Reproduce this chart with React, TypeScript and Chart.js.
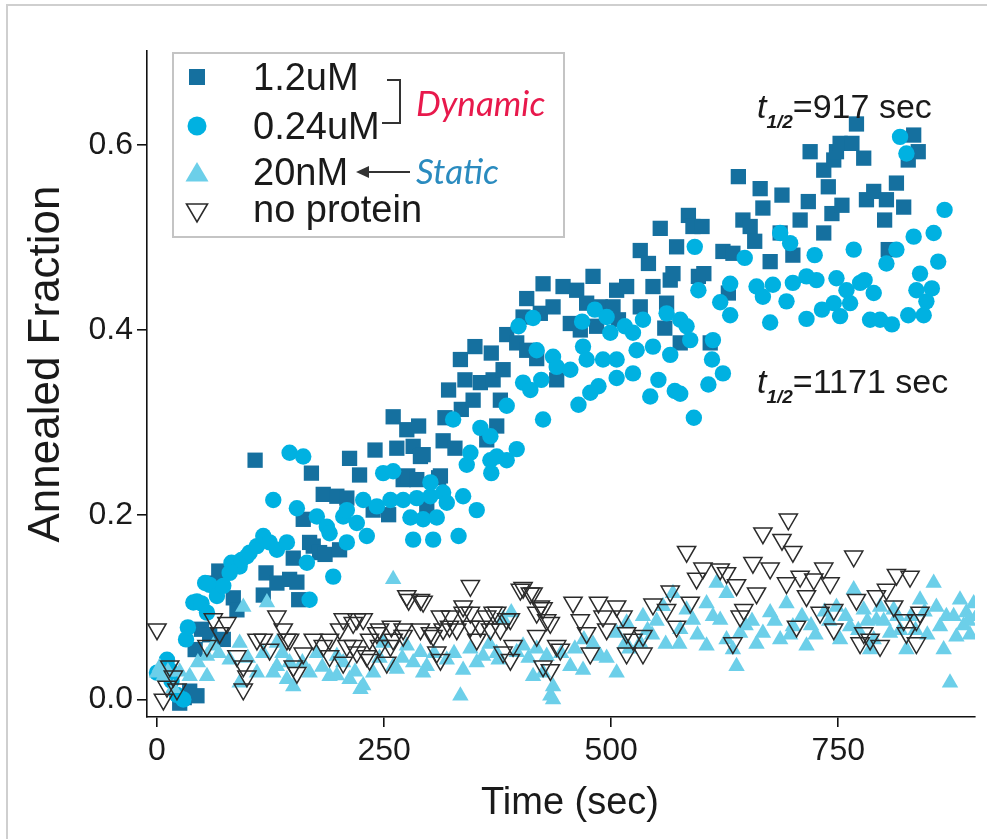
import React, { useEffect, useRef } from "react";
import { Chart, registerables } from "chart.js";
Chart.register(...registerables);

const xTickValues = [0, 250, 500, 750];
const yTickValues = [0, 0.2, 0.4, 0.6];
const xMin = -11;
const xMax = 900.5;
const yMin = -0.019;
const yMax = 0.702;

const seriesNames = ["1.2uM", "0.24uM", "20nM", "no protein"];
const seriesColors = ["#15709f", "#00b1e1", "#6ccfe9", "#2b2b2b"];

const conc12uM: [number, number][] = [
  [25, -0.004], [30, 0.002], [36, 0.009], [44, 0.004], [42, 0.054], [49, 0.076], [58, 0.07], [62, 0.126],
  [68, 0.139], [73, 0.065], [84, 0.11], [88, 0.097], [108, 0.259], [117, 0.113], [120, 0.137], [132, 0.126],
  [146, 0.13], [150, 0.153], [154, 0.127], [156, 0.108], [161, 0.195], [168, 0.17], [170, 0.245], [172, 0.166],
  [179, 0.159], [183, 0.222], [185, 0.157], [198, 0.22], [201, 0.162], [209, 0.218], [212, 0.261], [223, 0.243],
  [238, 0.205], [240, 0.27], [255, 0.2], [260, 0.306], [264, 0.272], [271, 0.238], [275, 0.292], [276, 0.242],
  [282, 0.274], [286, 0.238], [288, 0.296], [290, 0.263], [293, 0.265], [297, 0.207], [310, 0.24], [312, 0.242],
  [315, 0.28], [317, 0.305], [321, 0.335], [328, 0.272], [334, 0.368], [335, 0.314], [339, 0.346], [348, 0.324],
  [350, 0.382], [356, 0.343], [363, 0.281], [368, 0.375], [370, 0.346], [374, 0.296], [378, 0.324], [381, 0.357],
  [385, 0.395], [396, 0.386], [403, 0.414], [407, 0.434], [407, 0.378], [418, 0.369], [422, 0.418], [425, 0.45],
  [436, 0.425], [440, 0.346], [447, 0.447], [455, 0.407], [462, 0.443], [466, 0.4], [473, 0.429], [480, 0.458],
  [484, 0.404], [488, 0.425], [502, 0.425], [506, 0.443], [508, 0.411], [517, 0.447], [532, 0.486], [532, 0.425],
  [541, 0.472], [546, 0.447], [554, 0.51], [559, 0.402], [561, 0.429], [565, 0.454], [568, 0.461], [572, 0.49],
  [576, 0.386], [585, 0.524], [590, 0.512], [596, 0.458], [600, 0.512], [602, 0.461], [609, 0.386], [623, 0.485],
  [629, 0.44], [634, 0.483], [640, 0.566], [645, 0.519], [653, 0.512], [658, 0.496], [664, 0.553], [667, 0.532],
  [675, 0.474], [686, 0.505], [688, 0.546], [700, 0.481], [708, 0.519], [717, 0.539], [719, 0.593], [734, 0.573],
  [734, 0.505], [739, 0.555], [743, 0.526], [745, 0.584], [748, 0.593], [752, 0.602], [754, 0.535], [765, 0.602],
  [770, 0.623], [778, 0.586], [781, 0.541], [789, 0.55], [801, 0.519], [803, 0.541], [805, 0.487], [814, 0.559],
  [822, 0.533], [827, 0.584], [833, 0.611], [838, 0.593],
];

const conc024uM: [number, number][] = [
  [0, 0.029], [11, 0.043], [14, 0.032], [16, 0.02], [22, 0.005], [29, 0.0], [32, 0.065], [34, 0.078],
  [40, 0.105], [44, 0.106], [49, 0.104], [53, 0.126], [55, 0.094], [58, 0.124], [66, 0.112], [73, 0.123],
  [80, 0.137], [82, 0.148], [91, 0.144], [93, 0.151], [99, 0.155], [102, 0.159], [110, 0.166], [117, 0.177],
  [124, 0.17], [128, 0.216], [132, 0.162], [143, 0.17], [146, 0.267], [154, 0.207], [161, 0.263], [165, 0.148],
  [168, 0.108], [176, 0.198], [187, 0.187], [190, 0.18], [194, 0.133], [205, 0.198], [209, 0.205], [209, 0.17],
  [220, 0.191], [227, 0.216], [231, 0.177], [242, 0.209], [249, 0.245], [257, 0.216], [260, 0.247], [271, 0.216],
  [279, 0.197], [282, 0.173], [286, 0.218], [293, 0.195], [301, 0.22], [301, 0.235], [304, 0.173], [308, 0.197],
  [315, 0.224], [319, 0.213], [326, 0.303], [332, 0.177], [337, 0.22], [341, 0.254], [345, 0.267], [352, 0.205],
  [356, 0.294], [367, 0.259], [367, 0.285], [368, 0.245], [374, 0.263], [385, 0.259], [385, 0.318], [396, 0.271],
  [398, 0.404], [403, 0.343], [411, 0.335], [414, 0.413], [418, 0.378], [423, 0.346], [425, 0.303], [436, 0.371],
  [440, 0.36], [455, 0.357], [464, 0.319], [468, 0.409], [469, 0.382], [473, 0.368], [477, 0.332], [482, 0.422],
  [486, 0.339], [491, 0.368], [495, 0.414], [499, 0.397], [506, 0.368], [506, 0.348], [515, 0.404], [524, 0.397],
  [524, 0.353], [528, 0.378], [535, 0.411], [543, 0.328], [546, 0.382], [552, 0.346], [561, 0.418], [565, 0.373],
  [570, 0.334], [576, 0.411], [576, 0.331], [583, 0.404], [587, 0.389], [591, 0.305], [592, 0.49], [596, 0.443],
  [607, 0.341], [611, 0.368], [612, 0.389], [620, 0.43], [623, 0.353], [631, 0.45], [631, 0.416], [647, 0.478],
  [660, 0.447], [667, 0.436], [675, 0.408], [678, 0.449], [686, 0.505], [693, 0.431], [697, 0.494], [700, 0.451],
  [715, 0.458], [715, 0.412], [724, 0.481], [726, 0.454], [732, 0.422], [745, 0.429], [748, 0.456], [752, 0.415],
  [759, 0.443], [763, 0.429], [767, 0.487], [774, 0.451], [779, 0.454], [785, 0.411], [789, 0.44], [796, 0.411],
  [803, 0.472], [809, 0.406], [814, 0.487], [818, 0.609], [825, 0.591], [827, 0.416], [833, 0.501], [836, 0.443],
  [840, 0.461], [844, 0.416], [847, 0.431], [853, 0.445], [855, 0.505], [860, 0.474], [867, 0.53],
];

const conc20nM: [number, number][] = [
  [0, 0.029], [3, 0.035], [7, 0.025], [12, 0.03], [18, 0.012], [25, 0.03], [36, 0.025], [45, 0.04],
  [55, 0.047], [55, 0.025], [62, 0.058], [68, 0.05], [80, 0.043], [91, 0.061], [91, 0.018], [95, 0.1],
  [100, 0.045], [110, 0.029], [117, 0.05], [121, 0.105], [128, 0.029], [132, 0.036], [132, 0.061], [138, 0.05],
  [143, 0.022], [146, 0.04], [150, 0.014], [160, 0.04], [168, 0.029], [176, 0.05], [182, 0.035], [190, 0.025],
  [198, 0.047], [198, 0.026], [205, 0.04], [212, 0.022], [218, 0.03], [224, 0.011], [227, 0.015], [238, 0.029],
  [245, 0.045], [249, 0.061], [260, 0.13], [260, 0.036], [264, 0.033], [270, 0.045], [275, 0.058], [282, 0.04],
  [290, 0.051], [293, 0.029], [297, 0.036], [305, 0.05], [319, 0.043], [327, 0.05], [334, 0.004], [337, 0.032],
  [345, 0.055], [352, 0.04], [359, 0.047], [366, 0.06], [374, 0.05], [376, 0.043], [381, 0.087], [390, 0.094],
  [396, 0.051], [403, 0.058], [409, 0.045], [414, 0.025], [418, 0.055], [425, 0.029], [429, 0.047], [433, 0.004],
  [436, 0.014], [436, 0.0], [445, 0.05], [455, 0.036], [460, 0.055], [469, 0.032], [470, 0.065], [480, 0.06],
  [488, 0.047], [495, 0.045], [506, 0.029], [506, 0.072], [515, 0.06], [517, 0.083], [520, 0.055], [532, 0.061],
  [535, 0.09], [540, 0.075], [545, 0.07], [550, 0.085], [557, 0.101], [560, 0.06], [568, 0.115], [575, 0.06],
  [576, 0.076], [583, 0.097], [590, 0.086], [595, 0.07], [605, 0.104], [605, 0.058], [612, 0.09], [616, 0.126],
  [620, 0.086], [627, 0.115], [627, 0.065], [634, 0.054], [638, 0.036], [642, 0.072], [648, 0.08], [655, 0.085],
  [660, 0.06], [667, 0.072], [675, 0.094], [680, 0.085], [686, 0.065], [693, 0.104], [697, 0.07], [700, 0.079],
  [710, 0.09], [715, 0.058], [720, 0.08], [725, 0.07], [735, 0.095], [740, 0.085], [748, 0.1], [752, 0.065],
  [758, 0.09], [763, 0.079], [767, 0.119], [772, 0.075], [778, 0.097], [782, 0.085], [785, 0.054], [789, 0.065],
  [792, 0.086], [796, 0.1], [800, 0.085], [807, 0.072], [811, 0.097], [815, 0.09], [818, 0.075], [825, 0.054],
  [830, 0.09], [835, 0.075], [840, 0.108], [845, 0.095], [848, 0.07], [855, 0.126], [858, 0.1], [862, 0.079],
  [866, 0.054], [869, 0.09], [873, 0.018], [877, 0.09], [880, 0.068], [884, 0.108], [888, 0.08], [891, 0.094],
  [893, 0.085], [895, 0.07], [899, 0.104], [902, 0.09], [906, 0.079],
];

const noProtein: [number, number][] = [
  [0, 0.076], [7, 0.0], [11, 0.014], [14, 0.036], [18, 0.025], [22, 0.011], [55, 0.058], [62, 0.087],
  [69, 0.072], [77, 0.083], [88, 0.047], [95, 0.036], [95, 0.011], [99, 0.025], [110, 0.065], [117, 0.065],
  [124, 0.054], [132, 0.09], [139, 0.076], [143, 0.065], [146, 0.065], [150, 0.036], [154, 0.029], [161, 0.05],
  [172, 0.065], [183, 0.058], [190, 0.065], [190, 0.047], [201, 0.076], [205, 0.087], [205, 0.04], [209, 0.058],
  [216, 0.083], [216, 0.058], [220, 0.087], [220, 0.051], [227, 0.087], [231, 0.047], [234, 0.065], [234, 0.043],
  [242, 0.072], [245, 0.076], [245, 0.058], [253, 0.04], [257, 0.058], [258, 0.079], [260, 0.065], [271, 0.076],
  [271, 0.069], [275, 0.112], [277, 0.108], [290, 0.108], [290, 0.076], [293, 0.106], [301, 0.072], [304, 0.069],
  [308, 0.051], [312, 0.09], [312, 0.043], [315, 0.076], [322, 0.079], [323, 0.09], [330, 0.076], [337, 0.101],
  [337, 0.094], [345, 0.123], [345, 0.094], [345, 0.079], [352, 0.065], [356, 0.079], [363, 0.09], [367, 0.076],
  [370, 0.094], [374, 0.094], [378, 0.076], [381, 0.051], [385, 0.087], [389, 0.087], [389, 0.043], [392, 0.058],
  [400, 0.119], [403, 0.121], [411, 0.115], [414, 0.115], [418, 0.094], [418, 0.069], [422, 0.101], [425, 0.099],
  [425, 0.036], [429, 0.086], [433, 0.083], [433, 0.032], [440, 0.058], [444, 0.054], [458, 0.105], [466, 0.086],
  [473, 0.072], [477, 0.05], [486, 0.105], [491, 0.09], [495, 0.076], [506, 0.101], [513, 0.09], [517, 0.072],
  [517, 0.05], [524, 0.065], [535, 0.069], [535, 0.05], [546, 0.103], [561, 0.097], [565, 0.117], [572, 0.079],
  [583, 0.16], [587, 0.105], [594, 0.131], [601, 0.142], [620, 0.141], [627, 0.137], [634, 0.061], [638, 0.124],
  [642, 0.09], [646, 0.097], [656, 0.148], [660, 0.115], [667, 0.18], [675, 0.142], [688, 0.173], [693, 0.126],
  [695, 0.195], [700, 0.16], [704, 0.079], [708, 0.133], [715, 0.112], [723, 0.13], [730, 0.094], [734, 0.142],
  [741, 0.126], [745, 0.097], [745, 0.076], [767, 0.155], [770, 0.108], [774, 0.061], [778, 0.072], [785, 0.065],
  [792, 0.112], [796, 0.058], [803, 0.119], [811, 0.101], [814, 0.135], [822, 0.086], [825, 0.072], [829, 0.133],
  [836, 0.086], [836, 0.061], [840, 0.094],
];

const FONT = "'Liberation Sans', Arial, Helvetica, sans-serif";

function toPoints(arr: [number, number][]) {
  return arr.map(([x, y]) => ({ x, y }));
}

function drawMarker(ctx: CanvasRenderingContext2D, kind: number, x: number, y: number) {
  ctx.save();
  if (kind === 0) {
    ctx.fillStyle = seriesColors[0];
    ctx.fillRect(x - 8, y - 8, 16, 16);
  } else if (kind === 1) {
    ctx.fillStyle = seriesColors[1];
    ctx.beginPath();
    ctx.arc(x, y, 9.5, 0, Math.PI * 2);
    ctx.fill();
  } else if (kind === 2) {
    ctx.fillStyle = seriesColors[2];
    ctx.beginPath();
    ctx.moveTo(x, y - 11);
    ctx.lineTo(x + 11.5, y + 8.5);
    ctx.lineTo(x - 11.5, y + 8.5);
    ctx.closePath();
    ctx.fill();
  } else {
    ctx.strokeStyle = seriesColors[3];
    ctx.lineWidth = 1.6;
    ctx.beginPath();
    ctx.moveTo(x - 10.5, y - 8);
    ctx.lineTo(x + 10.5, y - 8);
    ctx.lineTo(x, y + 10);
    ctx.closePath();
    ctx.stroke();
  }
  ctx.restore();
}

function drawHalfLife(ctx: CanvasRenderingContext2D, x: number, y: number, value: string) {
  ctx.save();
  ctx.fillStyle = "#1a1a1a";
  ctx.textBaseline = "alphabetic";
  ctx.textAlign = "left";
  ctx.font = `italic 34px ${FONT}`;
  ctx.fillText("t", x, y);
  let cx = x + ctx.measureText("t").width;
  ctx.font = `italic bold 19px ${FONT}`;
  ctx.fillText("1/2", cx, y + 10);
  cx += ctx.measureText("1/2").width;
  ctx.font = `34px ${FONT}`;
  ctx.fillText(value, cx, y);
  ctx.restore();
}

const overlayPlugin = {
  id: "overlayPlugin",
  beforeDraw(chart: any) {
    const ctx = chart.ctx as CanvasRenderingContext2D;
    ctx.save();
    ctx.fillStyle = "#ffffff";
    ctx.fillRect(0, 0, chart.width, chart.height);
    ctx.strokeStyle = "#cfcfcf";
    ctx.lineWidth = 2;
    ctx.beginPath();
    ctx.moveTo(7, chart.height);
    ctx.lineTo(7, 5);
    ctx.lineTo(chart.width, 5);
    ctx.stroke();
    ctx.restore();
  },
  afterDraw(chart: any) {
    const ctx = chart.ctx as CanvasRenderingContext2D;
    const area = chart.chartArea;
    ctx.save();
    // axis titles
    ctx.fillStyle = "#1a1a1a";
    ctx.font = `44px ${FONT}`;
    ctx.textAlign = "center";
    ctx.textBaseline = "middle";
    ctx.save();
    ctx.translate(47, 364);
    ctx.rotate(-Math.PI / 2);
    ctx.fillText("Annealed Fraction", 0, 0);
    ctx.restore();
    ctx.font = `38px ${FONT}`;
    ctx.fillText("Time (sec)", (area.left + area.right) / 2 + 9, 804);

    // legend box
    ctx.fillStyle = "#ffffff";
    ctx.fillRect(173, 53, 391, 184);
    ctx.strokeStyle = "#c4c4c4";
    ctx.lineWidth = 2;
    ctx.strokeRect(173, 53, 391, 184);
    const rowsY = [77, 126, 173, 212];
    const baseY = [90, 139, 185, 222];
    for (let i = 0; i < seriesNames.length; i++) {
      drawMarker(ctx, i, 197, rowsY[i]);
      ctx.fillStyle = "#1a1a1a";
      ctx.font = `38px ${FONT}`;
      ctx.textAlign = "left";
      ctx.textBaseline = "alphabetic";
      ctx.fillText(seriesNames[i], 253, baseY[i]);
    }
    // bracket
    ctx.strokeStyle = "#333333";
    ctx.lineWidth = 2;
    ctx.beginPath();
    ctx.moveTo(387, 80);
    ctx.lineTo(400, 80);
    ctx.lineTo(400, 123);
    ctx.lineTo(382, 123);
    ctx.stroke();
    // arrow
    ctx.beginPath();
    ctx.moveTo(410, 172);
    ctx.lineTo(364, 172);
    ctx.stroke();
    ctx.fillStyle = "#333333";
    ctx.beginPath();
    ctx.moveTo(356, 172);
    ctx.lineTo(369, 166);
    ctx.lineTo(369, 178);
    ctx.closePath();
    ctx.fill();
    ctx.font = `italic 35px Lato, ${FONT}`;
    ctx.fillStyle = "#e8194c";
    ctx.fillText("Dynamic", 416, 116);
    ctx.fillStyle = "#2a8bbf";
    ctx.fillText("Static", 416, 184);

    drawHalfLife(ctx, 757, 118, "=917 sec");
    drawHalfLife(ctx, 757, 393, "=1171 sec");
    ctx.restore();
  },
};

export default function App() {
  const canvasRef = useRef<HTMLCanvasElement | null>(null);

  useEffect(() => {
    if (!canvasRef.current) return;
    const axisCommon = {
      type: "linear" as const,
      border: { display: true, color: "#111111", width: 1.6 },
      grid: {
        drawOnChartArea: false,
        drawTicks: true,
        tickLength: 10,
        color: "#111111",
        lineWidth: 1.6,
      },
    };
    const chart = new Chart(canvasRef.current, {
      type: "scatter",
      data: {
        datasets: [
          {
            label: seriesNames[3],
            data: toPoints(noProtein),
            pointStyle: "triangle",
            rotation: 180,
            pointRadius: 10.5,
            backgroundColor: "rgba(0,0,0,0)",
            borderColor: seriesColors[3],
            borderWidth: 1.5,
            order: 1,
          },
          {
            label: seriesNames[2],
            data: toPoints(conc20nM),
            pointStyle: "triangle",
            pointRadius: 9.5,
            backgroundColor: seriesColors[2],
            borderWidth: 0,
            order: 2,
          },
          {
            label: seriesNames[1],
            data: toPoints(conc024uM),
            pointStyle: "circle",
            pointRadius: 8.2,
            backgroundColor: seriesColors[1],
            borderWidth: 0,
            order: 3,
          },
          {
            label: seriesNames[0],
            data: toPoints(conc12uM),
            pointStyle: "rect",
            pointRadius: 10.8,
            backgroundColor: seriesColors[0],
            borderWidth: 0,
            order: 4,
          },
        ],
      },
      options: {
        responsive: false,
        animation: false,
        devicePixelRatio: 1,
        layout: { padding: { top: 51, right: 12, left: 0, bottom: 0 } },
        plugins: {
          legend: { display: false },
          tooltip: { enabled: false },
        },
        scales: {
          x: {
            ...axisCommon,
            min: xMin,
            max: xMax,
            afterBuildTicks: (scale: any) => {
              scale.ticks = xTickValues.map((v) => ({ value: v }));
            },
            afterFit: (scale: any) => {
              scale.height = 122;
            },
            ticks: {
              color: "#1a1a1a",
              padding: 5,
              maxRotation: 0,
              font: { family: FONT, size: 32 },
              callback: (v: any) => String(v),
            },
          },
          y: {
            ...axisCommon,
            min: yMin,
            max: yMax,
            afterBuildTicks: (scale: any) => {
              scale.ticks = yTickValues.map((v) => ({ value: v }));
            },
            afterFit: (scale: any) => {
              scale.width = 147;
            },
            ticks: {
              color: "#1a1a1a",
              padding: 4,
              font: { family: FONT, size: 32 },
              callback: (v: any) => Number(v).toFixed(1),
            },
          },
        },
      },
      plugins: [overlayPlugin],
    });
    return () => chart.destroy();
  }, []);

  return (
    <div style={{ position: "absolute", left: 0, top: 0, width: 987, height: 839, background: "#fff" }}>
      <canvas ref={canvasRef} width={987} height={839} style={{ width: 987, height: 839, display: "block" }} />
    </div>
  );
}
